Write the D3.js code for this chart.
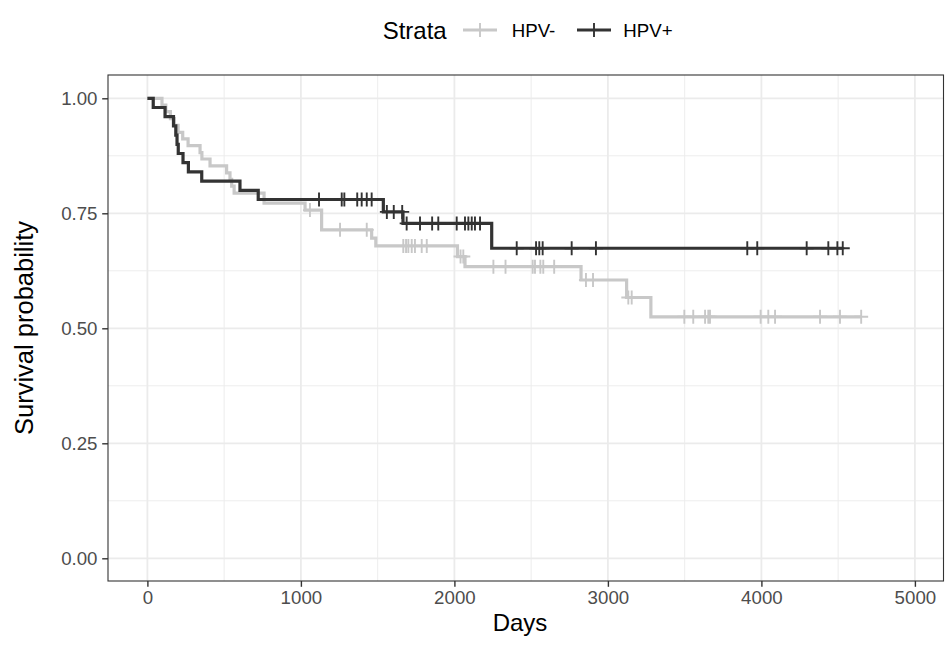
<!DOCTYPE html>
<html>
<head>
<meta charset="utf-8">
<script src="https://cdn.jsdelivr.net/npm/d3@7/dist/d3.min.js"></script>
<style>
  html, body { margin: 0; padding: 0; background: #fff; }
  svg { display: block; font-family: "Liberation Sans", Arial, sans-serif; }
</style>
</head>
<body>
<svg id="chart" width="945" height="649"></svg>
<script>
// ---- Data ----
const strata = ["HPV-", "HPV+"];
const strataColors = ["#c8c8c8", "#333333"];

// HPV- : event times and survival after each step
const hpvNegTimes = [0, 95, 120, 150, 175, 200, 230, 265, 343, 355, 408, 516, 538, 549, 565, 760, 1027, 1135, 1461, 1488, 2020, 2069, 2825, 3122, 3280];
const hpvNegSurv  = [1, 0.985, 0.971, 0.956, 0.941, 0.926, 0.912, 0.897, 0.882, 0.868, 0.853, 0.838, 0.824, 0.809, 0.794, 0.772, 0.757, 0.714, 0.696, 0.679, 0.656, 0.634, 0.605, 0.567, 0.525];
const hpvNegCensor = [1059, 1255, 1429, 1667, 1685, 1700, 1722, 1743, 1787, 1820, 2040, 2058, 2254, 2333, 2510, 2525, 2560, 2579, 2650, 2857, 2903, 3133, 3155, 3498, 3556, 3633, 3654, 3665, 3995, 4045, 4089, 4382, 4512, 4650];

// HPV+ : event times and survival after each step
const hpvPosTimes = [0, 38, 115, 170, 185, 193, 201, 232, 267, 354, 603, 722, 1537, 1665, 2243];
const hpvPosSurv  = [1, 0.98, 0.96, 0.94, 0.92, 0.90, 0.88, 0.86, 0.84, 0.82, 0.80, 0.78, 0.753, 0.728, 0.674];
const hpvPosCensor = [1118, 1266, 1283, 1367, 1396, 1429, 1461, 1560, 1605, 1660, 1689, 1776, 1855, 1895, 2015, 2069, 2091, 2113, 2134, 2167, 2406, 2532, 2553, 2575, 2764, 2922, 3908, 3973, 4295, 4436, 4495, 4530];

const xTicks = [0, 1000, 2000, 3000, 4000, 5000];
const xMinor = [500, 1500, 2500, 3500, 4500];
const yTicks = [0, 0.25, 0.5, 0.75, 1];
const yMinor = [0.125, 0.375, 0.625, 0.875];

const xLabel = "Days";
const yLabel = "Survival probability";
const legendTitle = "Strata";

// ---- Layout ----
const svg = d3.select("#chart");
const panel = { left: 108, top: 75, right: 943.5, bottom: 581 };
const x = d3.scaleLinear().domain([0, 5000]).range([147.4, 914.9]);
const y = d3.scaleLinear().domain([0, 1]).range([558.3, 98.3]);

const FONT_TICK = 18.7, FONT_XTITLE = 24, FONT_YTITLE = 25.5, FONT_LEGTITLE = 24;

svg.append("rect").attr("x", panel.left).attr("y", panel.top)
  .attr("width", panel.right - panel.left).attr("height", panel.bottom - panel.top)
  .attr("fill", "#fff");

const grid = svg.append("g");
grid.selectAll(".xminor").data(xMinor).join("line")
  .attr("x1", d => x(d)).attr("x2", d => x(d))
  .attr("y1", panel.top).attr("y2", panel.bottom)
  .attr("stroke", "#ebebeb").attr("stroke-width", 0.9);
grid.selectAll(".yminor").data(yMinor).join("line")
  .attr("x1", panel.left).attr("x2", panel.right)
  .attr("y1", d => y(d)).attr("y2", d => y(d))
  .attr("stroke", "#ebebeb").attr("stroke-width", 0.9);
grid.selectAll(".xmajor").data(xTicks).join("line")
  .attr("x1", d => x(d)).attr("x2", d => x(d))
  .attr("y1", panel.top).attr("y2", panel.bottom)
  .attr("stroke", "#ebebeb").attr("stroke-width", 1.8);
grid.selectAll(".ymajor").data(yTicks).join("line")
  .attr("x1", panel.left).attr("x2", panel.right)
  .attr("y1", d => y(d)).attr("y2", d => y(d))
  .attr("stroke", "#ebebeb").attr("stroke-width", 1.8);

// ---- Curves ----
const groups = [
  { name: strata[0], color: strataColors[0], times: hpvNegTimes, surv: hpvNegSurv, censor: hpvNegCensor },
  { name: strata[1], color: strataColors[1], times: hpvPosTimes, surv: hpvPosSurv, censor: hpvPosCensor }
];

function survAt(g, t) {
  const i = d3.bisectRight(g.times, t) - 1;
  return g.surv[Math.max(0, i)];
}

const line = d3.line().x(d => x(d[0])).y(d => y(d[1])).curve(d3.curveStepAfter);
const marks = svg.append("g");
const half = 7;
groups.forEach(g => {
  const pts = g.times.map((t, i) => [t, g.surv[i]]);
  const tEnd = d3.max(g.censor);
  pts.push([tEnd, survAt(g, tEnd)]);
  marks.append("path").datum(pts)
    .attr("d", line).attr("fill", "none")
    .attr("stroke", g.color).attr("stroke-width", 3.2)
    .attr("stroke-linejoin", "miter");
  marks.append("g").selectAll("path").data(g.censor).join("path")
    .attr("d", t => {
      const px = x(t), py = y(survAt(g, t));
      return `M${px - half},${py}H${px + half}M${px},${py - half}V${py + half}`;
    })
    .attr("stroke", g.color).attr("stroke-width", 1.9).attr("fill", "none");
});

// panel border
svg.append("rect").attr("x", panel.left).attr("y", panel.top)
  .attr("width", panel.right - panel.left).attr("height", panel.bottom - panel.top)
  .attr("fill", "none").attr("stroke", "#333333").attr("stroke-width", 1.1);

// ---- Axes ----
const xAxis = svg.append("g").attr("transform", `translate(0,${panel.bottom})`)
  .call(d3.axisBottom(x).tickValues(xTicks).tickFormat(d3.format("d")).tickSize(5.8).tickPadding(4));
const yAxis = svg.append("g").attr("transform", `translate(${panel.left},0)`)
  .call(d3.axisLeft(y).tickValues(yTicks).tickFormat(d3.format(".2f")).tickSize(5.8).tickPadding(4.7));
[xAxis, yAxis].forEach(a => {
  a.select(".domain").remove();
  a.selectAll(".tick line").attr("stroke", "#333333").attr("stroke-width", 1.4);
  a.selectAll(".tick text").attr("fill", "#4d4d4d")
    .style("font-size", FONT_TICK + "px")
    .style("font-family", "'Liberation Sans', Arial, sans-serif");
});

// axis titles
svg.append("text").attr("x", 520).attr("y", 631)
  .attr("text-anchor", "middle").style("font-size", FONT_XTITLE + "px").attr("fill", "#000")
  .text(xLabel);
svg.append("text").attr("transform", `translate(33,${(panel.top + panel.bottom) / 2}) rotate(-90)`)
  .attr("text-anchor", "middle").style("font-size", FONT_YTITLE + "px").attr("fill", "#000")
  .text(yLabel);

// ---- Legend ----
const legY = 30;
const leg = svg.append("g");
leg.append("text").attr("x", 446.7).attr("y", legY + 8.5).attr("text-anchor", "end")
  .style("font-size", FONT_LEGTITLE + "px").attr("fill", "#000").text(legendTitle);
const keyX = [463, 577];
const labelX = [511.7, 623.3];
groups.forEach((g, i) => {
  const kx = keyX[i];
  leg.append("line").attr("x1", kx).attr("x2", kx + 34).attr("y1", legY).attr("y2", legY)
    .attr("stroke", g.color).attr("stroke-width", 3.2);
  leg.append("path")
    .attr("d", `M${kx + 17 - half},${legY}H${kx + 17 + half}M${kx + 17},${legY - half}V${legY + half}`)
    .attr("stroke", g.color).attr("stroke-width", 1.9);
  leg.append("text").attr("x", labelX[i]).attr("y", legY + 6.7)
    .style("font-size", FONT_TICK + "px").attr("fill", "#000").text(g.name);
});
</script>
</body>
</html>
